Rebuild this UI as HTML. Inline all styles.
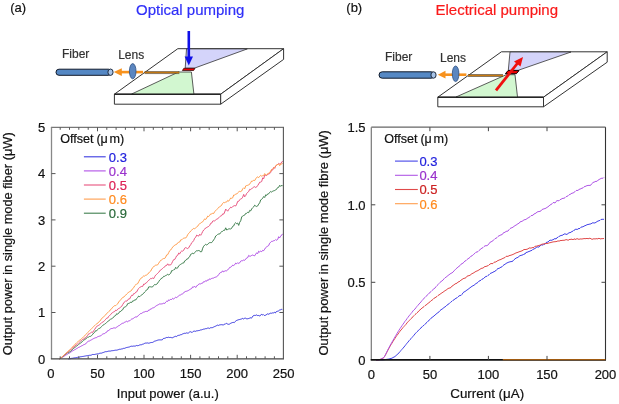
<!DOCTYPE html>
<html><head><meta charset="utf-8"><style>
html,body{margin:0;padding:0;background:#fff;}
svg{display:block;font-family:"Liberation Sans", sans-serif;will-change:transform;} text{stroke-width:0.2px;}
</style></head><body>
<svg width="619" height="404" viewBox="0 0 619 404">
<rect width="619" height="404" fill="#fff"/>
<polyline points="68.3,359.0 69.3,358.8 70.3,358.7 71.3,358.4 72.3,358.3 73.3,358.1 74.3,357.9 75.3,357.8 76.3,357.6 77.3,357.4 78.3,357.2 79.3,357.1 80.3,356.8 81.3,356.7 82.3,356.5 83.3,356.4 84.3,356.2 85.3,356.0 86.3,355.8 87.3,355.7 88.3,355.5 89.3,355.3 90.3,355.3 91.3,355.1 92.3,354.5 93.3,354.5 94.3,354.5 95.3,354.3 96.3,354.1 97.3,353.9 98.3,353.9 99.3,353.4 100.3,353.2 101.3,353.2 102.3,352.8 103.3,352.5 104.3,352.1 105.3,351.7 106.3,351.7 107.3,351.5 108.3,351.2 109.3,351.1 110.3,351.1 111.3,350.8 112.3,350.7 113.3,350.6 114.3,350.4 115.3,350.2 116.3,350.2 117.3,350.0 118.3,349.7 119.3,349.3 120.3,349.3 121.3,349.0 122.3,348.9 123.3,348.4 124.3,348.4 125.3,348.0 126.3,347.6 127.3,347.4 128.3,347.2 129.3,347.0 130.3,346.5 131.3,346.2 132.3,346.3 133.3,346.1 134.3,346.1 135.3,346.1 136.3,345.5 137.3,345.7 138.3,345.6 139.3,345.1 140.3,344.8 141.3,344.8 142.3,344.3 143.3,344.1 144.3,343.5 145.3,343.1 146.3,343.1 147.3,342.9 148.3,343.2 149.3,343.1 150.3,342.7 151.3,342.5 152.3,342.5 153.3,342.0 154.3,341.3 155.3,341.0 156.3,340.7 157.3,340.3 158.3,340.0 159.3,339.9 160.3,339.9 161.3,339.9 162.3,339.8 163.3,338.5 164.3,338.4 165.3,338.1 166.3,337.5 167.3,337.6 168.3,337.2 169.3,337.5 170.3,337.4 171.3,337.6 172.3,337.8 173.3,337.3 174.3,336.8 175.3,336.3 176.3,336.6 177.3,335.8 178.3,335.4 179.3,335.3 180.3,334.8 181.3,334.7 182.3,334.1 183.3,333.7 184.3,333.3 185.3,333.4 186.3,332.9 187.3,333.1 188.3,333.1 189.3,332.2 190.3,331.7 191.3,332.2 192.3,332.4 193.3,331.3 194.3,331.1 195.3,331.4 196.3,330.9 197.3,330.8 198.3,330.6 199.3,330.5 200.3,330.0 201.3,329.9 202.3,329.6 203.3,329.2 204.3,329.1 205.3,328.7 206.3,328.7 207.3,328.2 208.3,328.0 209.3,328.5 210.3,327.8 211.3,327.7 212.3,327.7 213.3,327.2 214.3,326.7 215.3,326.3 216.3,325.8 217.3,325.1 218.3,325.5 219.3,325.0 220.3,324.8 221.3,324.7 222.3,324.7 223.3,325.2 224.3,324.1 225.3,324.2 226.3,323.2 227.3,323.9 228.3,324.3 229.3,324.2 230.3,323.5 231.3,323.0 232.3,322.6 233.3,322.4 234.3,322.6 235.3,321.4 236.3,320.6 237.3,320.2 238.3,319.8 239.3,319.6 240.3,319.3 241.3,319.1 242.3,318.4 243.3,319.0 244.3,318.4 245.3,318.1 246.3,318.7 247.3,318.8 248.3,318.6 249.3,318.3 250.3,317.7 251.3,318.3 252.3,317.0 253.3,315.7 254.3,315.4 255.3,315.5 256.3,314.9 257.3,315.5 258.3,315.4 259.3,315.9 260.3,315.7 261.3,314.3 262.3,314.9 263.3,314.5 264.3,315.5 265.3,315.3 266.3,314.9 267.3,313.8 268.3,314.2 269.3,314.1 270.3,313.0 271.3,313.3 272.3,312.9 273.3,313.0 274.3,312.3 275.3,313.0 276.3,311.6 277.3,311.3 278.3,311.1 279.3,310.2 280.3,309.9 281.3,309.4 282.3,309.4" fill="none" stroke="#3a3ae0" stroke-width="1.0" stroke-linejoin="round"/>
<polyline points="59.7,359.0 60.7,358.4 61.7,357.7 62.7,356.9 63.7,356.5 64.7,355.8 65.7,355.1 66.7,354.6 67.7,354.0 68.7,353.4 69.7,352.9 70.7,352.2 71.7,351.5 72.7,350.8 73.7,350.4 74.7,349.7 75.7,349.3 76.7,348.5 77.7,348.0 78.7,347.3 79.7,347.0 80.7,346.4 81.7,345.8 82.7,345.4 83.7,344.7 84.7,344.4 85.7,343.9 86.7,342.5 87.7,341.7 88.7,341.1 89.7,340.9 90.7,340.2 91.7,339.7 92.7,339.1 93.7,338.5 94.7,338.1 95.7,337.7 96.7,337.5 97.7,336.7 98.7,336.4 99.7,336.1 100.7,335.9 101.7,334.8 102.7,334.1 103.7,333.7 104.7,333.5 105.7,332.6 106.7,332.2 107.7,330.6 108.7,330.5 109.7,329.8 110.7,328.6 111.7,328.5 112.7,328.4 113.7,327.9 114.7,327.9 115.7,328.0 116.7,327.1 117.7,326.5 118.7,325.7 119.7,325.3 120.7,324.4 121.7,323.7 122.7,323.2 123.7,323.0 124.7,322.2 125.7,321.8 126.7,321.2 127.7,321.8 128.7,320.9 129.7,320.8 130.7,319.8 131.7,319.0 132.7,318.8 133.7,318.2 134.7,317.4 135.7,316.9 136.7,317.1 137.7,315.9 138.7,315.3 139.7,314.3 140.7,313.5 141.7,313.4 142.7,312.6 143.7,312.1 144.7,311.9 145.7,311.4 146.7,311.4 147.7,311.4 148.7,310.0 149.7,310.1 150.7,308.8 151.7,308.7 152.7,307.9 153.7,307.7 154.7,307.1 155.7,306.2 156.7,305.5 157.7,305.0 158.7,304.5 159.7,303.9 160.7,304.0 161.7,303.9 162.7,303.7 163.7,303.2 164.7,303.5 165.7,302.1 166.7,301.2 167.7,301.4 168.7,299.8 169.7,300.3 170.7,299.3 171.7,299.5 172.7,298.3 173.7,299.0 174.7,298.1 175.7,297.2 176.7,297.6 177.7,296.7 178.7,295.9 179.7,295.1 180.7,294.9 181.7,294.1 182.7,293.8 183.7,293.0 184.7,291.7 185.7,291.4 186.7,291.2 187.7,290.8 188.7,290.3 189.7,289.6 190.7,289.0 191.7,288.5 192.7,286.8 193.7,287.1 194.7,286.4 195.7,287.5 196.7,285.8 197.7,285.4 198.7,284.2 199.7,283.8 200.7,283.9 201.7,283.3 202.7,283.1 203.7,281.6 204.7,281.9 205.7,280.6 206.7,281.2 207.7,279.8 208.7,280.1 209.7,278.7 210.7,279.3 211.7,278.4 212.7,278.2 213.7,278.0 214.7,277.4 215.7,277.1 216.7,276.7 217.7,275.9 218.7,274.6 219.7,273.1 220.7,272.5 221.7,272.2 222.7,270.8 223.7,271.9 224.7,271.1 225.7,270.7 226.7,270.8 227.7,269.9 228.7,268.9 229.7,267.4 230.7,267.2 231.7,266.4 232.7,265.1 233.7,265.5 234.7,264.7 235.7,263.1 236.7,263.8 237.7,262.7 238.7,263.5 239.7,262.8 240.7,261.2 241.7,260.7 242.7,260.7 243.7,260.0 244.7,260.3 245.7,259.2 246.7,257.9 247.7,257.6 248.7,255.4 249.7,256.2 250.7,256.1 251.7,255.4 252.7,255.0 253.7,255.5 254.7,255.8 255.7,254.2 256.7,252.8 257.7,253.6 258.7,251.2 259.7,252.0 260.7,251.1 261.7,251.7 262.7,250.3 263.7,250.7 264.7,249.2 265.7,247.6 266.7,246.8 267.7,246.2 268.7,245.5 269.7,243.2 270.7,242.2 271.7,241.3 272.7,241.3 273.7,240.7 274.7,240.5 275.7,239.5 276.7,240.3 277.7,239.4 278.7,236.7 279.7,237.8 280.7,236.2 281.7,235.0 282.7,233.8" fill="none" stroke="#b150e6" stroke-width="1.0" stroke-linejoin="round"/>
<polyline points="59.7,359.0 60.7,358.1 61.7,357.4 62.7,356.6 63.7,355.8 64.7,355.0 65.7,354.0 66.7,353.4 67.7,352.6 68.7,352.6 69.7,351.8 70.7,351.3 71.7,350.3 72.7,349.2 73.7,348.2 74.7,347.6 75.7,346.9 76.7,346.0 77.7,345.4 78.7,344.4 79.7,343.6 80.7,343.1 81.7,342.0 82.7,341.0 83.7,340.2 84.7,339.6 85.7,339.1 86.7,337.8 87.7,337.1 88.7,337.1 89.7,336.4 90.7,336.3 91.7,335.5 92.7,334.3 93.7,333.0 94.7,332.3 95.7,330.6 96.7,330.8 97.7,329.5 98.7,328.5 99.7,328.3 100.7,327.6 101.7,326.4 102.7,325.4 103.7,324.9 104.7,323.9 105.7,323.5 106.7,322.4 107.7,321.5 108.7,321.0 109.7,319.9 110.7,318.9 111.7,318.8 112.7,318.1 113.7,317.1 114.7,315.8 115.7,315.5 116.7,313.7 117.7,314.1 118.7,313.3 119.7,311.6 120.7,311.5 121.7,310.2 122.7,309.8 123.7,307.6 124.7,307.1 125.7,306.6 126.7,305.8 127.7,303.6 128.7,303.4 129.7,303.1 130.7,302.1 131.7,302.5 132.7,300.9 133.7,301.0 134.7,299.8 135.7,300.0 136.7,298.5 137.7,297.4 138.7,296.0 139.7,296.7 140.7,295.6 141.7,294.9 142.7,294.3 143.7,293.2 144.7,292.0 145.7,291.1 146.7,289.7 147.7,289.3 148.7,286.9 149.7,286.8 150.7,286.8 151.7,287.0 152.7,286.8 153.7,285.4 154.7,284.5 155.7,284.7 156.7,284.3 157.7,283.0 158.7,281.6 159.7,280.1 160.7,279.3 161.7,278.0 162.7,277.7 163.7,276.3 164.7,276.3 165.7,275.5 166.7,275.1 167.7,274.3 168.7,275.1 169.7,274.0 170.7,273.3 171.7,270.6 172.7,270.7 173.7,269.7 174.7,269.5 175.7,267.3 176.7,268.5 177.7,267.8 178.7,265.8 179.7,265.1 180.7,264.3 181.7,263.7 182.7,263.1 183.7,263.0 184.7,260.9 185.7,260.5 186.7,259.1 187.7,259.0 188.7,257.4 189.7,256.7 190.7,254.3 191.7,254.0 192.7,253.0 193.7,253.8 194.7,252.6 195.7,251.4 196.7,250.7 197.7,250.8 198.7,250.5 199.7,250.8 200.7,252.0 201.7,251.6 202.7,248.2 203.7,246.2 204.7,245.1 205.7,244.3 206.7,245.0 207.7,244.4 208.7,243.2 209.7,242.6 210.7,242.6 211.7,242.6 212.7,241.3 213.7,239.9 214.7,238.4 215.7,236.0 216.7,235.4 217.7,234.4 218.7,234.0 219.7,234.0 220.7,232.5 221.7,231.6 222.7,231.3 223.7,230.3 224.7,230.3 225.7,227.8 226.7,230.0 227.7,229.5 228.7,228.9 229.7,228.8 230.7,229.1 231.7,228.1 232.7,226.3 233.7,225.9 234.7,223.6 235.7,222.7 236.7,223.7 237.7,223.1 238.7,225.4 239.7,222.3 240.7,220.8 241.7,217.0 242.7,215.9 243.7,215.5 244.7,215.1 245.7,213.4 246.7,213.3 247.7,212.3 248.7,212.7 249.7,210.4 250.7,210.9 251.7,208.9 252.7,207.7 253.7,206.8 254.7,205.2 255.7,206.0 256.7,206.5 257.7,205.9 258.7,204.1 259.7,202.8 260.7,199.9 261.7,199.3 262.7,198.2 263.7,196.5 264.7,197.5 265.7,194.8 266.7,195.4 267.7,193.9 268.7,193.8 269.7,192.3 270.7,191.5 271.7,192.1 272.7,191.2 273.7,190.8 274.7,190.5 275.7,190.0 276.7,189.0 277.7,187.5 278.7,187.3 279.7,185.3 280.7,186.4 281.7,185.1 282.7,186.2" fill="none" stroke="#3f7f4f" stroke-width="1.0" stroke-linejoin="round"/>
<polyline points="59.7,359.0 60.7,358.1 61.7,357.4 62.7,356.5 63.7,355.4 64.7,354.7 65.7,353.8 66.7,353.0 67.7,352.0 68.7,351.4 69.7,350.5 70.7,349.9 71.7,348.8 72.7,348.0 73.7,346.8 74.7,346.6 75.7,345.1 76.7,344.8 77.7,343.8 78.7,342.8 79.7,341.9 80.7,341.0 81.7,340.3 82.7,339.4 83.7,339.2 84.7,337.9 85.7,337.8 86.7,336.3 87.7,335.4 88.7,333.8 89.7,333.6 90.7,332.8 91.7,332.1 92.7,332.4 93.7,330.7 94.7,329.3 95.7,327.8 96.7,326.4 97.7,325.8 98.7,325.3 99.7,324.6 100.7,323.7 101.7,322.6 102.7,322.1 103.7,321.5 104.7,320.4 105.7,319.3 106.7,318.2 107.7,318.0 108.7,316.3 109.7,315.4 110.7,314.6 111.7,313.2 112.7,312.5 113.7,311.9 114.7,311.5 115.7,310.1 116.7,310.5 117.7,309.2 118.7,308.5 119.7,308.0 120.7,307.1 121.7,306.4 122.7,304.5 123.7,303.0 124.7,301.8 125.7,300.8 126.7,301.2 127.7,300.1 128.7,298.8 129.7,298.9 130.7,296.8 131.7,295.3 132.7,295.5 133.7,293.6 134.7,293.6 135.7,292.2 136.7,291.9 137.7,289.9 138.7,288.4 139.7,287.4 140.7,286.9 141.7,286.4 142.7,286.4 143.7,284.1 144.7,284.3 145.7,283.0 146.7,282.6 147.7,281.3 148.7,280.3 149.7,279.6 150.7,278.4 151.7,278.6 152.7,278.0 153.7,278.6 154.7,276.6 155.7,275.1 156.7,274.3 157.7,273.3 158.7,272.3 159.7,271.0 160.7,269.8 161.7,269.3 162.7,268.4 163.7,267.4 164.7,266.9 165.7,265.5 166.7,265.4 167.7,263.8 168.7,265.3 169.7,264.8 170.7,264.9 171.7,263.4 172.7,261.3 173.7,259.6 174.7,259.5 175.7,257.7 176.7,255.8 177.7,255.3 178.7,253.1 179.7,253.9 180.7,251.9 181.7,251.0 182.7,251.2 183.7,250.2 184.7,248.2 185.7,247.6 186.7,248.1 187.7,248.6 188.7,247.8 189.7,246.0 190.7,244.7 191.7,242.7 192.7,241.9 193.7,240.5 194.7,238.2 195.7,237.2 196.7,235.1 197.7,235.7 198.7,236.1 199.7,234.3 200.7,235.3 201.7,233.6 202.7,231.5 203.7,230.0 204.7,229.2 205.7,227.9 206.7,227.5 207.7,226.9 208.7,226.4 209.7,225.4 210.7,223.3 211.7,223.1 212.7,221.1 213.7,220.8 214.7,220.9 215.7,220.0 216.7,219.2 217.7,218.9 218.7,217.7 219.7,216.7 220.7,216.0 221.7,215.6 222.7,213.9 223.7,214.1 224.7,212.0 225.7,209.1 226.7,210.2 227.7,211.2 228.7,209.5 229.7,208.4 230.7,207.2 231.7,207.7 232.7,206.5 233.7,206.0 234.7,205.6 235.7,206.0 236.7,204.2 237.7,201.4 238.7,201.3 239.7,199.9 240.7,198.8 241.7,198.6 242.7,197.2 243.7,194.4 244.7,196.8 245.7,195.5 246.7,193.4 247.7,192.3 248.7,191.5 249.7,189.3 250.7,189.5 251.7,188.6 252.7,188.0 253.7,187.1 254.7,186.7 255.7,187.5 256.7,186.9 257.7,185.5 258.7,184.0 259.7,182.2 260.7,182.1 261.7,181.5 262.7,177.8 263.7,178.8 264.7,175.1 265.7,175.3 266.7,175.6 267.7,174.2 268.7,174.0 269.7,173.6 270.7,172.4 271.7,169.6 272.7,170.1 273.7,167.4 274.7,168.4 275.7,166.0 276.7,165.1 277.7,164.4 278.7,163.4 279.7,164.0 280.7,163.8 281.7,162.1 282.7,161.1" fill="none" stroke="#e8537f" stroke-width="1.0" stroke-linejoin="round"/>
<polyline points="59.7,359.0 60.7,358.0 61.7,357.2 62.7,356.3 63.7,355.4 64.7,354.5 65.7,353.5 66.7,352.5 67.7,351.7 68.7,350.8 69.7,349.8 70.7,348.7 71.7,347.8 72.7,347.0 73.7,345.8 74.7,344.5 75.7,343.8 76.7,342.7 77.7,341.8 78.7,341.0 79.7,340.1 80.7,339.4 81.7,338.5 82.7,337.6 83.7,336.8 84.7,335.9 85.7,334.5 86.7,333.7 87.7,332.5 88.7,331.6 89.7,330.4 90.7,329.6 91.7,328.6 92.7,327.5 93.7,326.4 94.7,325.6 95.7,324.6 96.7,323.8 97.7,323.3 98.7,321.9 99.7,321.3 100.7,320.0 101.7,318.4 102.7,317.8 103.7,316.5 104.7,315.8 105.7,314.9 106.7,313.4 107.7,312.7 108.7,311.6 109.7,310.9 110.7,309.3 111.7,308.7 112.7,307.2 113.7,306.4 114.7,305.6 115.7,305.6 116.7,304.6 117.7,303.8 118.7,302.0 119.7,300.8 120.7,299.8 121.7,298.4 122.7,297.6 123.7,297.2 124.7,295.9 125.7,295.2 126.7,294.1 127.7,293.2 128.7,292.1 129.7,291.6 130.7,291.2 131.7,290.0 132.7,288.5 133.7,287.7 134.7,285.8 135.7,284.9 136.7,283.9 137.7,283.7 138.7,281.7 139.7,279.9 140.7,278.4 141.7,278.0 142.7,276.7 143.7,275.9 144.7,276.1 145.7,275.2 146.7,275.0 147.7,274.2 148.7,273.0 149.7,271.8 150.7,271.1 151.7,269.1 152.7,267.7 153.7,266.4 154.7,266.0 155.7,265.1 156.7,265.1 157.7,264.8 158.7,263.2 159.7,261.7 160.7,260.3 161.7,259.9 162.7,259.0 163.7,258.5 164.7,258.5 165.7,257.0 166.7,254.9 167.7,254.7 168.7,252.6 169.7,250.7 170.7,250.0 171.7,248.5 172.7,247.1 173.7,246.1 174.7,245.1 175.7,244.7 176.7,244.3 177.7,242.8 178.7,242.3 179.7,242.0 180.7,239.9 181.7,239.8 182.7,238.8 183.7,238.2 184.7,238.0 185.7,238.0 186.7,236.7 187.7,234.7 188.7,233.3 189.7,232.4 190.7,231.0 191.7,230.2 192.7,229.1 193.7,228.4 194.7,228.7 195.7,227.9 196.7,227.0 197.7,226.3 198.7,224.5 199.7,223.7 200.7,223.2 201.7,222.2 202.7,221.8 203.7,220.3 204.7,218.8 205.7,219.5 206.7,218.1 207.7,216.1 208.7,216.5 209.7,215.3 210.7,213.9 211.7,213.9 212.7,213.3 213.7,213.5 214.7,211.5 215.7,210.7 216.7,209.7 217.7,208.6 218.7,207.3 219.7,206.8 220.7,206.2 221.7,205.0 222.7,203.3 223.7,202.4 224.7,202.7 225.7,202.1 226.7,202.0 227.7,200.4 228.7,201.2 229.7,199.6 230.7,198.0 231.7,198.3 232.7,197.8 233.7,195.0 234.7,195.0 235.7,194.2 236.7,194.0 237.7,192.8 238.7,191.9 239.7,191.3 240.7,191.6 241.7,191.0 242.7,188.8 243.7,187.8 244.7,188.8 245.7,185.9 246.7,185.5 247.7,185.3 248.7,185.0 249.7,184.0 250.7,182.5 251.7,181.0 252.7,181.1 253.7,180.3 254.7,180.6 255.7,178.8 256.7,177.4 257.7,176.9 258.7,177.6 259.7,176.3 260.7,175.4 261.7,176.2 262.7,175.7 263.7,175.6 264.7,173.6 265.7,174.8 266.7,174.9 267.7,174.0 268.7,172.9 269.7,172.5 270.7,171.0 271.7,169.7 272.7,168.7 273.7,168.4 274.7,166.9 275.7,166.1 276.7,164.8 277.7,164.5 278.7,164.2 279.7,165.7 280.7,163.9 281.7,164.0 282.7,163.3" fill="none" stroke="#ff9d4d" stroke-width="1.0" stroke-linejoin="round"/>
<line x1="50.9" y1="127.3" x2="284.0" y2="127.3" stroke="#777" stroke-width="1.2"/>
<line x1="51.5" y1="127.3" x2="51.5" y2="358.8" stroke="#888" stroke-width="1.3"/>
<line x1="283.4" y1="127.3" x2="283.4" y2="358.8" stroke="#555" stroke-width="1.1"/>
<line x1="50.9" y1="358.8" x2="284.0" y2="358.8" stroke="#444" stroke-width="1.3"/>
<line x1="60.2" y1="358.8" x2="60.2" y2="356.3" stroke="#555" stroke-width="1"/>
<line x1="60.2" y1="127.3" x2="60.2" y2="129.8" stroke="#555" stroke-width="1"/>
<line x1="69.5" y1="358.8" x2="69.5" y2="356.3" stroke="#555" stroke-width="1"/>
<line x1="69.5" y1="127.3" x2="69.5" y2="129.8" stroke="#555" stroke-width="1"/>
<line x1="78.8" y1="358.8" x2="78.8" y2="356.3" stroke="#555" stroke-width="1"/>
<line x1="78.8" y1="127.3" x2="78.8" y2="129.8" stroke="#555" stroke-width="1"/>
<line x1="88.2" y1="358.8" x2="88.2" y2="356.3" stroke="#555" stroke-width="1"/>
<line x1="88.2" y1="127.3" x2="88.2" y2="129.8" stroke="#555" stroke-width="1"/>
<line x1="97.5" y1="358.8" x2="97.5" y2="354.8" stroke="#555" stroke-width="1"/>
<line x1="97.5" y1="127.3" x2="97.5" y2="131.3" stroke="#555" stroke-width="1"/>
<line x1="106.8" y1="358.8" x2="106.8" y2="356.3" stroke="#555" stroke-width="1"/>
<line x1="106.8" y1="127.3" x2="106.8" y2="129.8" stroke="#555" stroke-width="1"/>
<line x1="116.1" y1="358.8" x2="116.1" y2="356.3" stroke="#555" stroke-width="1"/>
<line x1="116.1" y1="127.3" x2="116.1" y2="129.8" stroke="#555" stroke-width="1"/>
<line x1="125.4" y1="358.8" x2="125.4" y2="356.3" stroke="#555" stroke-width="1"/>
<line x1="125.4" y1="127.3" x2="125.4" y2="129.8" stroke="#555" stroke-width="1"/>
<line x1="134.7" y1="358.8" x2="134.7" y2="356.3" stroke="#555" stroke-width="1"/>
<line x1="134.7" y1="127.3" x2="134.7" y2="129.8" stroke="#555" stroke-width="1"/>
<line x1="144.0" y1="358.8" x2="144.0" y2="354.8" stroke="#555" stroke-width="1"/>
<line x1="144.0" y1="127.3" x2="144.0" y2="131.3" stroke="#555" stroke-width="1"/>
<line x1="153.3" y1="358.8" x2="153.3" y2="356.3" stroke="#555" stroke-width="1"/>
<line x1="153.3" y1="127.3" x2="153.3" y2="129.8" stroke="#555" stroke-width="1"/>
<line x1="162.7" y1="358.8" x2="162.7" y2="356.3" stroke="#555" stroke-width="1"/>
<line x1="162.7" y1="127.3" x2="162.7" y2="129.8" stroke="#555" stroke-width="1"/>
<line x1="172.0" y1="358.8" x2="172.0" y2="356.3" stroke="#555" stroke-width="1"/>
<line x1="172.0" y1="127.3" x2="172.0" y2="129.8" stroke="#555" stroke-width="1"/>
<line x1="181.3" y1="358.8" x2="181.3" y2="356.3" stroke="#555" stroke-width="1"/>
<line x1="181.3" y1="127.3" x2="181.3" y2="129.8" stroke="#555" stroke-width="1"/>
<line x1="190.6" y1="358.8" x2="190.6" y2="354.8" stroke="#555" stroke-width="1"/>
<line x1="190.6" y1="127.3" x2="190.6" y2="131.3" stroke="#555" stroke-width="1"/>
<line x1="199.9" y1="358.8" x2="199.9" y2="356.3" stroke="#555" stroke-width="1"/>
<line x1="199.9" y1="127.3" x2="199.9" y2="129.8" stroke="#555" stroke-width="1"/>
<line x1="209.2" y1="358.8" x2="209.2" y2="356.3" stroke="#555" stroke-width="1"/>
<line x1="209.2" y1="127.3" x2="209.2" y2="129.8" stroke="#555" stroke-width="1"/>
<line x1="218.5" y1="358.8" x2="218.5" y2="356.3" stroke="#555" stroke-width="1"/>
<line x1="218.5" y1="127.3" x2="218.5" y2="129.8" stroke="#555" stroke-width="1"/>
<line x1="227.8" y1="358.8" x2="227.8" y2="356.3" stroke="#555" stroke-width="1"/>
<line x1="227.8" y1="127.3" x2="227.8" y2="129.8" stroke="#555" stroke-width="1"/>
<line x1="237.2" y1="358.8" x2="237.2" y2="354.8" stroke="#555" stroke-width="1"/>
<line x1="237.2" y1="127.3" x2="237.2" y2="131.3" stroke="#555" stroke-width="1"/>
<line x1="246.5" y1="358.8" x2="246.5" y2="356.3" stroke="#555" stroke-width="1"/>
<line x1="246.5" y1="127.3" x2="246.5" y2="129.8" stroke="#555" stroke-width="1"/>
<line x1="255.8" y1="358.8" x2="255.8" y2="356.3" stroke="#555" stroke-width="1"/>
<line x1="255.8" y1="127.3" x2="255.8" y2="129.8" stroke="#555" stroke-width="1"/>
<line x1="265.1" y1="358.8" x2="265.1" y2="356.3" stroke="#555" stroke-width="1"/>
<line x1="265.1" y1="127.3" x2="265.1" y2="129.8" stroke="#555" stroke-width="1"/>
<line x1="274.4" y1="358.8" x2="274.4" y2="356.3" stroke="#555" stroke-width="1"/>
<line x1="274.4" y1="127.3" x2="274.4" y2="129.8" stroke="#555" stroke-width="1"/>
<line x1="51.5" y1="312.5" x2="55.5" y2="312.5" stroke="#555" stroke-width="1"/>
<line x1="283.4" y1="312.5" x2="279.4" y2="312.5" stroke="#555" stroke-width="1"/>
<line x1="51.5" y1="266.2" x2="55.5" y2="266.2" stroke="#555" stroke-width="1"/>
<line x1="283.4" y1="266.2" x2="279.4" y2="266.2" stroke="#555" stroke-width="1"/>
<line x1="51.5" y1="219.9" x2="55.5" y2="219.9" stroke="#555" stroke-width="1"/>
<line x1="283.4" y1="219.9" x2="279.4" y2="219.9" stroke="#555" stroke-width="1"/>
<line x1="51.5" y1="173.6" x2="55.5" y2="173.6" stroke="#555" stroke-width="1"/>
<line x1="283.4" y1="173.6" x2="279.4" y2="173.6" stroke="#555" stroke-width="1"/>
<text x="45.3" y="363.5" font-size="13" fill="#111" stroke="#111" text-anchor="end" >0</text>
<text x="45.3" y="317.2" font-size="13" fill="#111" stroke="#111" text-anchor="end" >1</text>
<text x="45.3" y="270.9" font-size="13" fill="#111" stroke="#111" text-anchor="end" >2</text>
<text x="45.3" y="224.6" font-size="13" fill="#111" stroke="#111" text-anchor="end" >3</text>
<text x="45.3" y="178.3" font-size="13" fill="#111" stroke="#111" text-anchor="end" >4</text>
<text x="45.3" y="132.0" font-size="13" fill="#111" stroke="#111" text-anchor="end" >5</text>
<text x="50.9" y="378.1" font-size="13" fill="#111" stroke="#111" text-anchor="middle" >0</text>
<text x="97.5" y="378.1" font-size="13" fill="#111" stroke="#111" text-anchor="middle" >50</text>
<text x="144.0" y="378.1" font-size="13" fill="#111" stroke="#111" text-anchor="middle" >100</text>
<text x="190.6" y="378.1" font-size="13" fill="#111" stroke="#111" text-anchor="middle" >150</text>
<text x="237.2" y="378.1" font-size="13" fill="#111" stroke="#111" text-anchor="middle" >200</text>
<text x="283.7" y="378.1" font-size="13" fill="#111" stroke="#111" text-anchor="middle" >250</text>
<text x="167.8" y="397.6" font-size="13" fill="#111" stroke="#111" text-anchor="middle" >Input power (a.u.)</text>
<text transform="translate(11.8,243.8) rotate(-90)" font-size="12.8" fill="#111" stroke="#111" text-anchor="middle">Output power in single mode fiber (μW)</text>
<text y="142.6" font-size="12.6" fill="#111" stroke="#111"><tspan x="60.2">Offset</tspan><tspan x="96.6">(</tspan><tspan x="100.6">μ</tspan><tspan x="109.4">m)</tspan></text>
<line x1="83.9" y1="156.8" x2="105.7" y2="156.8" stroke="#3a3ae0" stroke-width="1.1"/>
<text x="108.8" y="161.60000000000002" font-size="13" fill="#2222dd" stroke="#2222dd" text-anchor="start" >0.3</text>
<line x1="83.9" y1="170.9" x2="105.7" y2="170.9" stroke="#b150e6" stroke-width="1.1"/>
<text x="108.8" y="175.70000000000002" font-size="13" fill="#9a33cc" stroke="#9a33cc" text-anchor="start" >0.4</text>
<line x1="83.9" y1="185.0" x2="105.7" y2="185.0" stroke="#e8537f" stroke-width="1.1"/>
<text x="108.8" y="189.8" font-size="13" fill="#dd2255" stroke="#dd2255" text-anchor="start" >0.5</text>
<line x1="83.9" y1="199.1" x2="105.7" y2="199.1" stroke="#ff9d4d" stroke-width="1.1"/>
<text x="108.8" y="203.90000000000003" font-size="13" fill="#ff8a1f" stroke="#ff8a1f" text-anchor="start" >0.6</text>
<line x1="83.9" y1="213.2" x2="105.7" y2="213.2" stroke="#3f7f4f" stroke-width="1.1"/>
<text x="108.8" y="218.00000000000003" font-size="13" fill="#2a6a3a" stroke="#2a6a3a" text-anchor="start" >0.9</text>
<polyline points="376.0,359.9 377.0,359.9 378.0,359.8 379.0,359.9 380.0,359.8 381.0,359.8 382.0,359.8 383.0,359.8 384.0,359.7 385.0,359.6 386.0,359.5 387.0,359.3 388.0,359.2 389.0,359.0 390.0,358.7 391.0,358.4 392.0,358.2 393.0,357.5 394.0,357.1 395.0,356.5 396.0,355.6 397.0,354.7 398.0,353.8 399.0,352.9 400.0,351.7 401.0,350.4 402.0,349.3 403.0,348.2 404.0,347.0 405.0,345.8 406.0,344.5 407.0,343.2 408.0,342.1 409.0,340.8 410.0,339.6 411.0,338.7 412.0,337.5 413.0,336.3 414.0,335.2 415.0,333.9 416.0,332.8 417.0,331.8 418.0,330.9 419.0,329.9 420.0,328.7 421.0,328.0 422.0,326.8 423.0,325.8 424.0,325.3 425.0,324.3 426.0,323.1 427.0,322.3 428.0,321.2 429.0,320.3 430.0,319.5 431.0,318.2 432.0,317.5 433.0,316.7 434.0,316.0 435.0,315.0 436.0,314.2 437.0,313.3 438.0,312.6 439.0,311.9 440.0,310.6 441.0,309.7 442.0,309.2 443.0,308.4 444.0,307.5 445.0,306.9 446.0,306.2 447.0,305.1 448.0,304.4 449.0,303.8 450.0,302.8 451.0,301.8 452.0,301.3 453.0,300.3 454.0,299.8 455.0,298.9 456.0,298.3 457.0,297.8 458.0,296.8 459.0,296.0 460.0,295.4 461.0,295.5 462.0,294.4 463.0,292.8 464.0,291.9 465.0,291.6 466.0,290.7 467.0,290.0 468.0,289.4 469.0,288.5 470.0,287.8 471.0,287.0 472.0,286.3 473.0,285.7 474.0,285.3 475.0,284.4 476.0,283.5 477.0,283.1 478.0,282.3 479.0,281.1 480.0,280.7 481.0,280.2 482.0,279.2 483.0,278.9 484.0,277.9 485.0,277.2 486.0,276.3 487.0,276.4 488.0,275.4 489.0,274.8 490.0,273.8 491.0,272.9 492.0,273.0 493.0,271.9 494.0,272.0 495.0,270.9 496.0,270.7 497.0,269.3 498.0,268.4 499.0,268.5 500.0,267.7 501.0,267.2 502.0,266.8 503.0,265.6 504.0,264.8 505.0,264.3 506.0,263.5 507.0,262.9 508.0,262.5 509.0,262.0 510.0,261.9 511.0,261.5 512.0,261.6 513.0,260.9 514.0,259.7 515.0,259.0 516.0,258.0 517.0,257.8 518.0,257.3 519.0,256.4 520.0,255.6 521.0,255.5 522.0,255.0 523.0,254.9 524.0,253.9 525.0,254.1 526.0,252.4 527.0,252.4 528.0,251.8 529.0,251.5 530.0,251.1 531.0,250.6 532.0,250.4 533.0,249.2 534.0,249.1 535.0,248.3 536.0,247.9 537.0,246.7 538.0,247.2 539.0,247.0 540.0,245.8 541.0,245.3 542.0,244.5 543.0,245.3 544.0,244.2 545.0,244.1 546.0,242.6 547.0,242.2 548.0,242.0 549.0,241.0 550.0,240.0 551.0,240.4 552.0,240.1 553.0,239.7 554.0,239.2 555.0,238.4 556.0,239.1 557.0,237.5 558.0,237.4 559.0,236.3 560.0,236.1 561.0,235.3 562.0,235.5 563.0,234.8 564.0,234.2 565.0,233.7 566.0,234.4 567.0,234.3 568.0,233.6 569.0,232.7 570.0,232.7 571.0,232.2 572.0,231.4 573.0,231.2 574.0,230.2 575.0,229.9 576.0,228.8 577.0,229.9 578.0,228.6 579.0,228.7 580.0,228.3 581.0,227.2 582.0,226.9 583.0,226.8 584.0,226.1 585.0,225.7 586.0,225.3 587.0,224.7 588.0,224.5 589.0,224.3 590.0,224.0 591.0,223.9 592.0,223.1 593.0,222.7 594.0,223.1 595.0,222.8 596.0,222.4 597.0,221.5 598.0,221.1 599.0,220.7 600.0,220.4 601.0,219.4 602.0,219.4 603.0,219.2 604.0,219.4" fill="none" stroke="#4444e8" stroke-width="1.0" stroke-linejoin="round"/>
<polyline points="376.0,359.9 377.0,359.9 378.0,359.9 379.0,359.7 380.0,359.5 381.0,359.1 382.0,358.7 383.0,358.1 384.0,357.4 385.0,355.7 386.0,353.9 387.0,351.9 388.0,350.0 389.0,348.2 390.0,346.4 391.0,344.7 392.0,343.1 393.0,341.4 394.0,339.9 395.0,338.4 396.0,336.8 397.0,335.3 398.0,334.1 399.0,332.6 400.0,331.2 401.0,330.0 402.0,328.9 403.0,327.6 404.0,326.5 405.0,325.4 406.0,324.3 407.0,322.9 408.0,321.8 409.0,320.8 410.0,319.8 411.0,318.6 412.0,317.7 413.0,316.8 414.0,315.6 415.0,314.6 416.0,313.8 417.0,312.8 418.0,312.0 419.0,310.7 420.0,309.9 421.0,309.0 422.0,308.0 423.0,307.4 424.0,306.6 425.0,305.6 426.0,305.1 427.0,304.2 428.0,303.4 429.0,302.6 430.0,301.9 431.0,300.7 432.0,300.2 433.0,299.4 434.0,298.2 435.0,297.9 436.0,297.0 437.0,296.5 438.0,295.5 439.0,294.9 440.0,294.3 441.0,293.4 442.0,292.9 443.0,292.1 444.0,291.5 445.0,290.6 446.0,290.2 447.0,289.4 448.0,288.5 449.0,288.2 450.0,287.9 451.0,287.5 452.0,286.0 453.0,285.6 454.0,284.7 455.0,284.1 456.0,283.4 457.0,283.3 458.0,282.0 459.0,281.7 460.0,281.2 461.0,280.0 462.0,279.6 463.0,278.7 464.0,278.4 465.0,278.1 466.0,277.7 467.0,276.2 468.0,275.9 469.0,275.6 470.0,275.3 471.0,274.4 472.0,273.6 473.0,273.3 474.0,272.6 475.0,272.0 476.0,271.3 477.0,271.0 478.0,270.5 479.0,269.9 480.0,269.3 481.0,268.5 482.0,268.2 483.0,268.1 484.0,267.2 485.0,266.4 486.0,266.6 487.0,265.9 488.0,265.8 489.0,264.8 490.0,264.2 491.0,263.4 492.0,263.7 493.0,263.5 494.0,262.3 495.0,262.0 496.0,262.0 497.0,261.0 498.0,260.6 499.0,260.1 500.0,259.7 501.0,259.5 502.0,258.7 503.0,258.5 504.0,257.8 505.0,257.6 506.0,256.4 507.0,256.2 508.0,256.5 509.0,255.6 510.0,255.5 511.0,255.1 512.0,254.9 513.0,254.4 514.0,254.0 515.0,253.4 516.0,252.9 517.0,252.6 518.0,252.3 519.0,251.8 520.0,251.5 521.0,251.2 522.0,250.8 523.0,250.3 524.0,249.4 525.0,249.6 526.0,249.4 527.0,249.3 528.0,248.8 529.0,248.1 530.0,247.8 531.0,248.3 532.0,247.6 533.0,247.6 534.0,247.4 535.0,246.2 536.0,246.3 537.0,246.0 538.0,245.7 539.0,245.5 540.0,245.1 541.0,244.8 542.0,244.0 543.0,244.2 544.0,243.7 545.0,243.8 546.0,243.4 547.0,243.5 548.0,243.3 549.0,242.9 550.0,242.7 551.0,242.5 552.0,242.1 553.0,242.0 554.0,241.7 555.0,241.8 556.0,241.5 557.0,241.5 558.0,240.7 559.0,241.3 560.0,240.6 561.0,240.5 562.0,240.5 563.0,240.2 564.0,240.4 565.0,240.0 566.0,239.7 567.0,239.7 568.0,240.3 569.0,239.8 570.0,239.2 571.0,239.6 572.0,238.9 573.0,240.0 574.0,238.7 575.0,239.4 576.0,239.3 577.0,238.5 578.0,239.1 579.0,239.3 580.0,239.0 581.0,238.9 582.0,239.1 583.0,238.7 584.0,238.7 585.0,238.5 586.0,238.8 587.0,238.2 588.0,238.9 589.0,238.4 590.0,238.2 591.0,238.8 592.0,239.3 593.0,239.1 594.0,238.6 595.0,239.1 596.0,238.6 597.0,238.8 598.0,238.9 599.0,238.0 600.0,239.1 601.0,238.6 602.0,238.8 603.0,238.5 604.0,238.6" fill="none" stroke="#e04a4a" stroke-width="1.0" stroke-linejoin="round"/>
<polyline points="376.0,359.9 377.0,359.9 378.0,359.9 379.0,359.8 380.0,359.5 381.0,359.1 382.0,358.6 383.0,358.0 384.0,357.4 385.0,355.8 386.0,353.6 387.0,351.6 388.0,349.4 389.0,347.6 390.0,345.6 391.0,343.9 392.0,342.1 393.0,340.3 394.0,338.6 395.0,336.9 396.0,335.2 397.0,333.4 398.0,331.8 399.0,330.2 400.0,328.6 401.0,327.1 402.0,325.7 403.0,324.2 404.0,322.9 405.0,321.2 406.0,320.2 407.0,318.6 408.0,317.3 409.0,315.9 410.0,314.8 411.0,313.5 412.0,312.3 413.0,310.9 414.0,309.9 415.0,309.0 416.0,307.7 417.0,306.3 418.0,305.3 419.0,304.0 420.0,303.0 421.0,301.9 422.0,300.6 423.0,299.3 424.0,298.4 425.0,297.5 426.0,296.3 427.0,295.4 428.0,294.5 429.0,293.2 430.0,292.5 431.0,291.6 432.0,290.5 433.0,289.6 434.0,288.7 435.0,288.1 436.0,286.7 437.0,285.6 438.0,284.7 439.0,283.5 440.0,282.4 441.0,281.6 442.0,280.9 443.0,280.1 444.0,278.8 445.0,277.8 446.0,277.2 447.0,276.4 448.0,275.5 449.0,274.8 450.0,274.0 451.0,273.3 452.0,272.9 453.0,272.1 454.0,270.9 455.0,269.9 456.0,268.8 457.0,268.0 458.0,267.1 459.0,266.3 460.0,265.6 461.0,264.2 462.0,263.7 463.0,263.1 464.0,262.2 465.0,260.9 466.0,260.7 467.0,259.5 468.0,258.8 469.0,258.1 470.0,257.4 471.0,256.1 472.0,255.9 473.0,254.9 474.0,253.9 475.0,253.3 476.0,252.2 477.0,252.0 478.0,251.6 479.0,250.5 480.0,249.7 481.0,248.8 482.0,248.1 483.0,247.6 484.0,246.6 485.0,245.8 486.0,245.7 487.0,245.7 488.0,244.8 489.0,243.9 490.0,242.2 491.0,242.0 492.0,241.2 493.0,240.8 494.0,239.6 495.0,238.6 496.0,238.3 497.0,237.6 498.0,236.5 499.0,235.7 500.0,235.5 501.0,234.7 502.0,234.8 503.0,233.2 504.0,232.6 505.0,232.3 506.0,231.4 507.0,231.2 508.0,231.1 509.0,229.7 510.0,228.7 511.0,227.9 512.0,227.8 513.0,227.1 514.0,226.4 515.0,225.6 516.0,225.1 517.0,224.5 518.0,223.6 519.0,223.4 520.0,221.9 521.0,221.6 522.0,221.3 523.0,220.7 524.0,219.8 525.0,219.7 526.0,219.4 527.0,218.6 528.0,217.9 529.0,217.5 530.0,216.7 531.0,215.7 532.0,215.4 533.0,215.3 534.0,213.9 535.0,213.7 536.0,213.0 537.0,212.2 538.0,211.6 539.0,211.6 540.0,211.3 541.0,210.9 542.0,209.5 543.0,209.2 544.0,208.8 545.0,208.6 546.0,208.1 547.0,207.4 548.0,206.8 549.0,206.0 550.0,204.9 551.0,204.6 552.0,203.8 553.0,202.7 554.0,202.4 555.0,203.1 556.0,201.5 557.0,200.6 558.0,200.7 559.0,200.8 560.0,199.7 561.0,199.3 562.0,198.6 563.0,198.3 564.0,198.3 565.0,197.7 566.0,196.7 567.0,196.4 568.0,195.8 569.0,194.8 570.0,194.4 571.0,193.9 572.0,193.0 573.0,193.2 574.0,192.3 575.0,191.7 576.0,190.7 577.0,190.2 578.0,190.7 579.0,189.2 580.0,189.3 581.0,188.5 582.0,188.3 583.0,187.8 584.0,186.8 585.0,186.5 586.0,186.1 587.0,185.6 588.0,185.5 589.0,185.3 590.0,185.5 591.0,184.9 592.0,183.7 593.0,182.3 594.0,182.3 595.0,181.6 596.0,181.3 597.0,181.4 598.0,180.1 599.0,179.7 600.0,178.9 601.0,178.6 602.0,178.0 603.0,178.4 604.0,177.4" fill="none" stroke="#b058e6" stroke-width="1.0" stroke-linejoin="round"/>
<line x1="371.3" y1="127.2" x2="605.5" y2="127.2" stroke="#666" stroke-width="1.2"/>
<line x1="371.3" y1="127.2" x2="371.3" y2="359.9" stroke="#777" stroke-width="1.2"/>
<line x1="605.5" y1="127.2" x2="605.5" y2="359.9" stroke="#333" stroke-width="1.1"/>
<line x1="370.7" y1="359.9" x2="606.0" y2="359.9" stroke="#111" stroke-width="1.8"/>
<line x1="502.8" y1="359.59999999999997" x2="605.5" y2="359.59999999999997" stroke="#a05a10" stroke-width="1.2"/>
<line x1="429.9" y1="359.9" x2="429.9" y2="355.9" stroke="#444" stroke-width="1"/>
<line x1="429.9" y1="127.2" x2="429.9" y2="131.2" stroke="#444" stroke-width="1"/>
<line x1="488.4" y1="359.9" x2="488.4" y2="355.9" stroke="#444" stroke-width="1"/>
<line x1="488.4" y1="127.2" x2="488.4" y2="131.2" stroke="#444" stroke-width="1"/>
<line x1="547.0" y1="359.9" x2="547.0" y2="355.9" stroke="#444" stroke-width="1"/>
<line x1="547.0" y1="127.2" x2="547.0" y2="131.2" stroke="#444" stroke-width="1"/>
<line x1="371.3" y1="282.3" x2="375.3" y2="282.3" stroke="#444" stroke-width="1"/>
<line x1="605.5" y1="282.3" x2="601.5" y2="282.3" stroke="#444" stroke-width="1"/>
<line x1="371.3" y1="204.8" x2="375.3" y2="204.8" stroke="#444" stroke-width="1"/>
<line x1="605.5" y1="204.8" x2="601.5" y2="204.8" stroke="#444" stroke-width="1"/>
<text x="365.6" y="364.6" font-size="13" fill="#111" stroke="#111" text-anchor="end" >0</text>
<text x="365.6" y="287.0" font-size="13" fill="#111" stroke="#111" text-anchor="end" >0.5</text>
<text x="365.6" y="209.5" font-size="13" fill="#111" stroke="#111" text-anchor="end" >1.0</text>
<text x="365.6" y="131.9" font-size="13" fill="#111" stroke="#111" text-anchor="end" >1.5</text>
<text x="371.3" y="378.5" font-size="13" fill="#111" stroke="#111" text-anchor="middle" >0</text>
<text x="429.9" y="378.5" font-size="13" fill="#111" stroke="#111" text-anchor="middle" >50</text>
<text x="488.4" y="378.5" font-size="13" fill="#111" stroke="#111" text-anchor="middle" >100</text>
<text x="547.0" y="378.5" font-size="13" fill="#111" stroke="#111" text-anchor="middle" >150</text>
<text x="605.5" y="378.5" font-size="13" fill="#111" stroke="#111" text-anchor="middle" >200</text>
<text x="487.2" y="398.2" font-size="13.4" fill="#111" stroke="#111" text-anchor="middle" >Current (μA)</text>
<text transform="translate(327.8,242.8) rotate(-90)" font-size="12.95" fill="#111" stroke="#111" text-anchor="middle">Output power in single mode fibre (μW)</text>
<text y="142.7" font-size="12.6" fill="#111" stroke="#111"><tspan x="384.2">Offset</tspan><tspan x="420.6">(</tspan><tspan x="424.6">μ</tspan><tspan x="433.4">m)</tspan></text>
<line x1="395" y1="161.1" x2="417.8" y2="161.1" stroke="#4444e8" stroke-width="1.1"/>
<text x="419.4" y="165.9" font-size="13" fill="#2222dd" stroke="#2222dd" text-anchor="start" >0.3</text>
<line x1="395" y1="175.3" x2="417.8" y2="175.3" stroke="#b058e6" stroke-width="1.1"/>
<text x="419.4" y="180.1" font-size="13" fill="#9a33cc" stroke="#9a33cc" text-anchor="start" >0.4</text>
<line x1="395" y1="189.5" x2="417.8" y2="189.5" stroke="#e04a4a" stroke-width="1.1"/>
<text x="419.4" y="194.3" font-size="13" fill="#cc2222" stroke="#cc2222" text-anchor="start" >0.5</text>
<line x1="395" y1="203.7" x2="417.8" y2="203.7" stroke="#ff9d4d" stroke-width="1.1"/>
<text x="419.4" y="208.5" font-size="13" fill="#ff8a1f" stroke="#ff8a1f" text-anchor="start" >0.6</text>
<text x="10.2" y="11.5" font-size="13" fill="#111" stroke="#111" text-anchor="start" >(a)</text>
<text x="346.3" y="11.5" font-size="13" fill="#111" stroke="#111" text-anchor="start" >(b)</text>
<text x="136" y="15.2" font-size="15" fill="#3030f8" stroke="#3030f8" text-anchor="start" >Optical pumping</text>
<text x="435.5" y="15.2" font-size="15" fill="#fa1a1a" stroke="#fa1a1a" text-anchor="start" >Electrical pumping</text>
<polygon points="114.4,94.2 177.8,48.7 283.6,48.7 220.7,94.2" fill="#fff" stroke="#333" stroke-width="1"/>
<polygon points="114.4,94.2 220.7,94.2 220.7,104.2 114.4,104.2" fill="#fff" stroke="#333" stroke-width="1"/>
<polygon points="220.7,94.2 283.6,48.7 283.6,59.4 220.7,104.2" fill="#fff" stroke="#333" stroke-width="1"/>
<polygon points="186.5,48.9 247.3,48.9 194.3,68.2 185.2,68.2" fill="#d4d4fa" stroke="#333" stroke-width="0.8"/>
<polygon points="131.7,94 178.5,72 191.4,72 193.9,94" fill="#d2f7d0" stroke="#333" stroke-width="0.8"/>
<line x1="114.4" y1="94.2" x2="220.7" y2="94.2" stroke="#111" stroke-width="1.1"/>
<polygon points="183.8,68.3 195,68.3 193.6,70.5 182.4,70.5" fill="#f00000" stroke="#200" stroke-width="0.7"/>
<line x1="144.6" y1="72.6" x2="179.3" y2="72.6" stroke="#c87a10" stroke-width="2"/>
<line x1="144.6" y1="71.6" x2="179.3" y2="71.6" stroke="#333" stroke-width="0.5"/>
<line x1="144.6" y1="73.6" x2="179.3" y2="73.6" stroke="#333" stroke-width="0.5"/>
<line x1="188.8" y1="31" x2="188.8" y2="58" stroke="#1010e8" stroke-width="2.6"/>
<polygon points="184.6,56.5 193,56.5 188.8,65.5" fill="#1010e8"/>
<line x1="119" y1="72.1" x2="143" y2="72.1" stroke="#f7921e" stroke-width="2.6"/>
<polygon points="113.8,72.1 121.8,68.2 121.8,76" fill="#f7921e"/>
<ellipse cx="132.7" cy="71.2" rx="3.3" ry="7.6" fill="#5b86c0" stroke="#2d4f80" stroke-width="0.8"/>
<rect x="56" y="69.2" width="55.5" height="6.1" rx="3" fill="#5588c4" stroke="#111a2a" stroke-width="1"/>
<ellipse cx="110.5" cy="72.2" rx="2.6" ry="3.2" fill="#a8c4e8" stroke="#111a2a" stroke-width="0.9"/>
<text x="62" y="57.5" font-size="12" fill="#333" stroke="#333" text-anchor="start" >Fiber</text>
<text x="118.2" y="59" font-size="12" fill="#333" stroke="#333" text-anchor="start" >Lens</text>
<polygon points="437.8,97.2 501.4,51.8 607.2,51.8 543.5,97.2" fill="#fff" stroke="#333" stroke-width="1"/>
<polygon points="437.8,97.2 543.5,97.2 543.5,106.8 437.8,106.8" fill="#fff" stroke="#333" stroke-width="1"/>
<polygon points="543.5,97.2 607.2,51.8 607.2,62.2 543.5,106.8" fill="#fff" stroke="#333" stroke-width="1"/>
<polygon points="510,52 571,52 518.2,70.3 508.3,70.3" fill="#d4d4fa" stroke="#333" stroke-width="0.8"/>
<polygon points="456,97 506.3,74.7 515,74.7 517.5,97" fill="#d2f7d0" stroke="#333" stroke-width="0.8"/>
<line x1="437.8" y1="97.2" x2="543.5" y2="97.2" stroke="#111" stroke-width="1.1"/>
<polygon points="508,70.6 519,70.6 516.4,73.7 505.4,73.7" fill="#f00000" stroke="#100" stroke-width="1"/>
<line x1="468" y1="75.5" x2="503" y2="75.5" stroke="#c87a10" stroke-width="2"/>
<line x1="468" y1="74.5" x2="503" y2="74.5" stroke="#333" stroke-width="0.5"/>
<line x1="468" y1="76.5" x2="503" y2="76.5" stroke="#333" stroke-width="0.5"/>
<line x1="443" y1="74.7" x2="466.4" y2="74.7" stroke="#f7921e" stroke-width="2.6"/>
<polygon points="437.8,74.7 445.5,70.8 445.5,78.6" fill="#f7921e"/>
<ellipse cx="455.6" cy="73.8" rx="3.3" ry="7.8" fill="#5b86c0" stroke="#2d4f80" stroke-width="0.8"/>
<rect x="379" y="71.8" width="55.5" height="6.4" rx="3.2" fill="#5588c4" stroke="#111a2a" stroke-width="1"/>
<ellipse cx="433.5" cy="75" rx="2.6" ry="3.2" fill="#a8c4e8" stroke="#111a2a" stroke-width="0.9"/>
<line x1="496" y1="90.3" x2="518.5" y2="62" stroke="#f01010" stroke-width="2.8"/>
<polygon points="523,57 514,61.5 520.5,66.5" fill="#f01010"/>
<text x="385" y="60.5" font-size="12" fill="#333" stroke="#333" text-anchor="start" >Fiber</text>
<text x="440" y="62" font-size="12" fill="#333" stroke="#333" text-anchor="start" >Lens</text>
</svg></body></html>
